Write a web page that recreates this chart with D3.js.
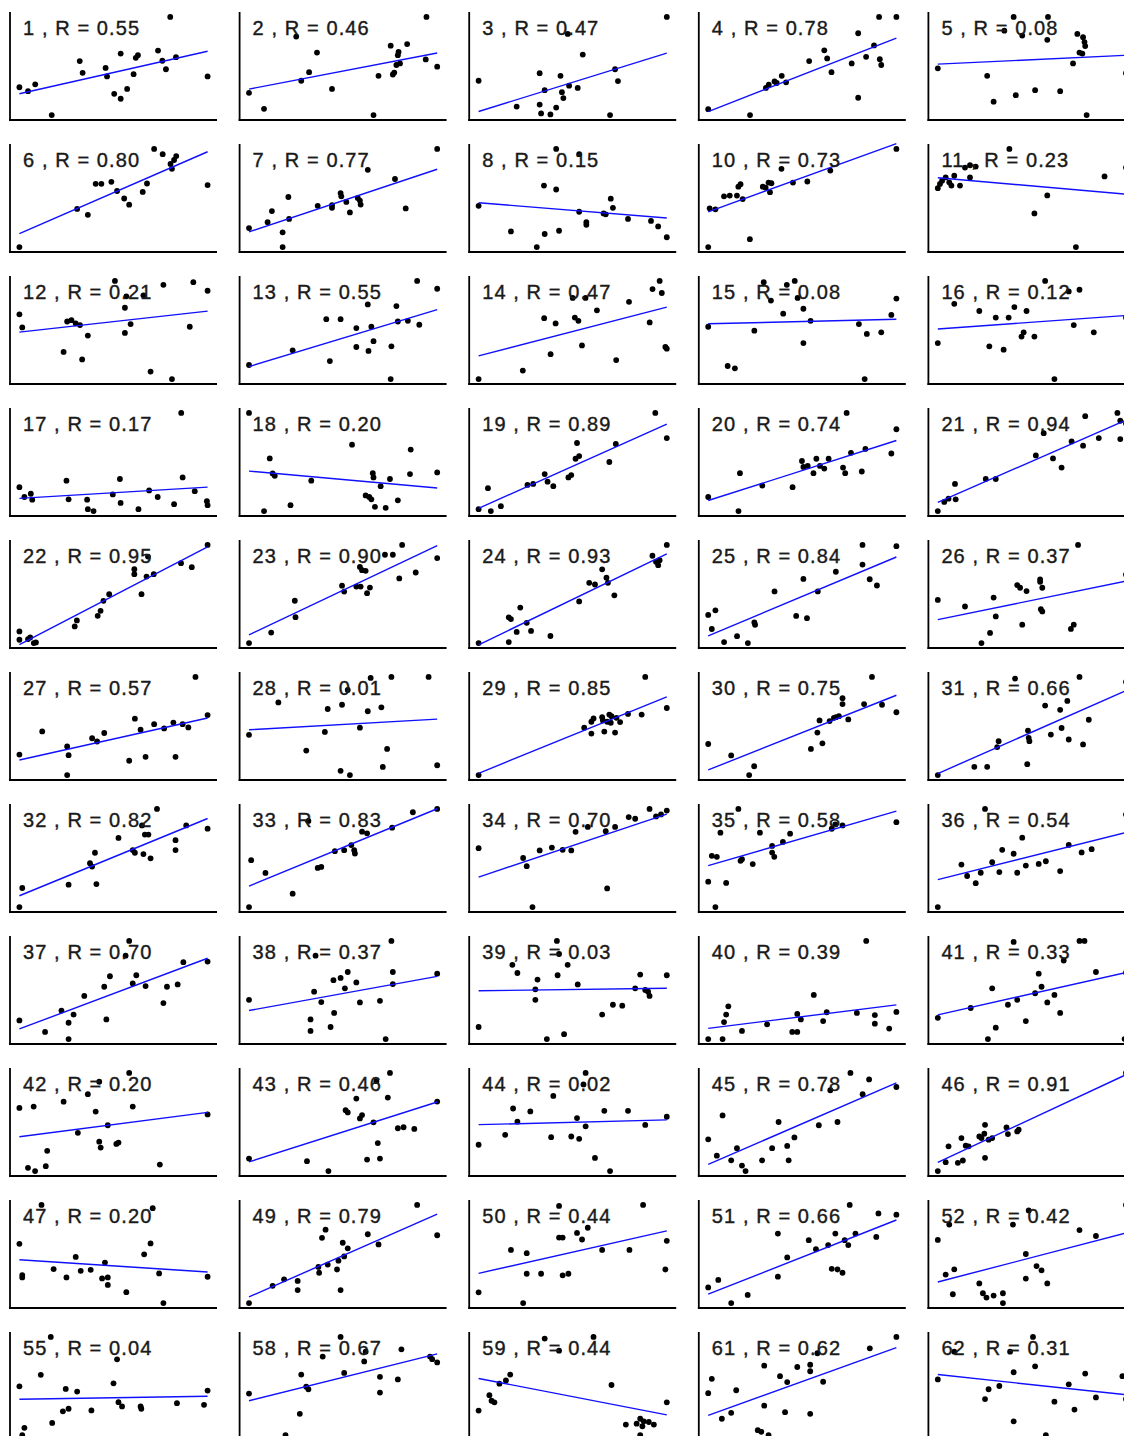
<!DOCTYPE html>
<html>
<head>
<meta charset="utf-8">
<script src="https://cdn.jsdelivr.net/npm/d3@7"></script>
<style>
  body { margin: 0; background: #fff; overflow: hidden; }
  svg { display: block; }
</style>
</head>
<body>
<script>
// panel numbers and correlation labels
const panelIds = [1, 2, 3, 4, 5, 6, 7, 8, 10, 11, 12, 13, 14, 15, 16, 17, 18, 19, 20, 21,
  22, 23, 24, 25, 26, 27, 28, 29, 30, 31, 32, 33, 34, 35, 36, 37, 38, 39, 40, 41,
  42, 43, 44, 45, 46, 47, 49, 50, 51, 52, 55, 58, 59, 61, 62];

const rLabels = ["0.55", "0.46", "0.47", "0.78", "0.08", "0.80", "0.77", "0.15", "0.73", "0.23",
  "0.21", "0.55", "0.47", "0.08", "0.12", "0.17", "0.20", "0.89", "0.74", "0.94",
  "0.95", "0.90", "0.93", "0.84", "0.37", "0.57", "0.01", "0.85", "0.75", "0.66",
  "0.82", "0.83", "0.70", "0.58", "0.54", "0.70", "0.37", "0.03", "0.39", "0.33",
  "0.20", "0.46", "0.02", "0.78", "0.91", "0.20", "0.79", "0.44", "0.66", "0.42",
  "0.04", "0.67", "0.44", "0.62", "0.31"];

// [x, y] per panel, same order as panelIds
const panelPoints = [
  [[16,97],[28,85],[38,106],[61,12],[100,177],[104,141],[136,156],[138,130],[148,77],[157,200],[157,62],[166,92],[175,137],[178,187],[181,195],[209,209],[215,178],[220,152],[226,312],[234,189],[278,130]],
  [[14,80],[35,31],[80,252],[87,117],[98,143],[109,203],[130,92],[188,12],[195,132],[212,224],[215,136],[217,142],[220,165],[222,195],[223,205],[225,170],[235,229],[261,182],[262,312],[277,160]],
  [[13,117],[66,38],[98,140],[98,44],[100,17],[105,88],[113,14],[121,35],[127,132],[129,82],[131,64],[139,102],[151,95],[158,197],[196,12],[203,152],[207,116],[275,312],[137,260]],
  [[13,30],[71,12],[93,95],[97,105],[105,115],[108,110],[115,132],[121,112],[153,177],[174,210],[178,185],[184,143],[212,170],[221,262],[221,65],[232,190],[243,225],[250,312],[251,183],[253,165],[274,312]],
  [[12,155],[81,132],[90,53],[105,270],[118,312],[121,73],[130,255],[148,88],[165,242],[166,312],[183,85],[201,170],[207,260],[210,203],[215,250],[217,235],[218,223],[214,200],[220,12],[275,140]],
  [[14,13],[95,130],[110,112],[121,207],[129,207],[143,213],[151,185],[161,162],[168,143],[187,182],[193,208],[203,314],[215,298],[226,268],[228,253],[231,280],[234,292],[278,203]],
  [[14,70],[40,88],[46,122],[61,57],[61,12],[69,165],[70,98],[110,138],[130,140],[130,132],[142,177],[143,167],[150,150],[155,118],[166,162],[169,154],[170,142],[180,248],[218,220],[233,130],[277,312]],
  [[13,138],[58,60],[94,12],[104,200],[105,52],[121,188],[121,312],[125,62],[153,296],[153,120],[163,88],[163,80],[187,115],[190,112],[197,160],[200,132],[221,98],[253,92],[263,75],[275,42]],
  [[13,12],[15,125],[23,122],[35,160],[43,162],[53,162],[55,188],[58,195],[61,152],[71,35],[89,188],[93,185],[97,200],[99,172],[101,198],[115,240],[131,200],[151,203],[183,235],[275,298]],
  [[12,192],[15,205],[18,215],[23,225],[28,210],[31,200],[35,230],[43,200],[50,255],[57,262],[65,258],[57,225],[112,312],[147,115],[165,170],[205,12],[245,228],[275,255]],
  [[14,210],[18,170],[76,95],[81,188],[87,192],[93,182],[99,177],[102,72],[110,145],[148,312],[164,265],[188,268],[162,230],[162,153],[170,180],[198,35],[216,300],[228,12],[253,172],[258,308],[278,282]],
  [[14,55],[75,100],[122,195],[127,67],[142,195],[164,168],[164,110],[180,240],[181,98],[185,172],[188,128],[213,112],[212,12],[220,235],[222,188],[236,190],[252,178],[249,312],[277,288]],
  [[13,12],[75,38],[114,88],[105,198],[121,182],[145,260],[148,200],[153,190],[158,115],[163,260],[179,222],[206,70],[224,248],[253,185],[257,287],[267,312],[270,275],[275,110],[277,105]],
  [[13,172],[40,52],[50,45],[77,160],[90,308],[100,252],[117,212],[122,300],[133,312],[137,260],[145,227],[145,122],[155,190],[222,180],[230,12],[233,150],[253,155],[267,208],[274,258]],
  [[12,122],[35,242],[70,220],[84,112],[93,200],[104,102],[111,200],[119,232],[129,142],[132,155],[136,220],[147,142],[162,312],[175,12],[195,280],[202,177],[210,285],[230,155],[275,200]],
  [[14,85],[21,55],[30,65],[32,47],[80,105],[83,48],[109,47],[110,18],[118,12],[145,63],[155,110],[156,37],[181,18],[196,75],[208,55],[231,33],[241,312],[243,115],[260,73],[277,42],[278,30]],
  [[14,312],[35,12],[43,173],[47,127],[50,120],[72,30],[101,105],[158,215],[177,60],[182,55],[185,48],[187,128],[188,115],[190,25],[198,88],[205,22],[211,110],[222,45],[239,125],[240,200],[277,130]],
  [[13,18],[26,82],[30,12],[44,27],[81,92],[89,95],[105,125],[109,102],[117,88],[138,115],[142,122],[148,172],[153,180],[150,220],[195,162],[204,217],[259,312],[275,235]],
  [[13,55],[57,128],[55,12],[88,90],[130,85],[143,165],[145,147],[151,150],[159,128],[163,172],[168,150],[174,142],[180,172],[200,145],[203,128],[205,312],[211,190],[226,133],[231,202],[267,188],[274,262]],
  [[12,12],[21,40],[27,50],[37,48],[36,95],[79,110],[93,110],[149,182],[160,250],[173,173],[185,145],[199,225],[215,212],[218,302],[237,235],[263,312],[267,288],[267,232],[275,280]],
  [[16,55],[16,30],[28,32],[31,37],[36,20],[39,22],[93,70],[96,88],[125,102],[129,117],[133,147],[141,167],[176,242],[176,227],[186,167],[193,220],[195,280],[203,227],[241,260],[256,248],[278,315]],
  [[14,13],[45,45],[78,142],[79,92],[144,188],[147,170],[164,185],[170,185],[169,245],[172,235],[177,233],[179,165],[183,182],[204,282],[215,282],[224,210],[228,312],[247,228],[277,272]],
  [[13,22],[55,98],[58,93],[55,25],[66,55],[71,127],[80,82],[86,58],[113,43],[153,145],[167,200],[175,195],[185,240],[193,200],[191,215],[202,163],[255,280],[260,262],[263,252],[265,267],[275,312]],
  [[13,98],[18,55],[23,112],[35,15],[53,33],[68,12],[77,75],[78,68],[105,170],[135,95],[145,208],[150,88],[165,170],[190,230],[227,312],[227,252],[237,207],[247,188],[274,308]],
  [[12,145],[50,125],[73,14],[85,45],[90,152],[93,95],[123,190],[127,182],[130,70],[136,172],[155,207],[155,200],[158,182],[156,117],[158,110],[198,57],[202,70],[208,312],[275,222]],
  [[14,77],[46,148],[81,102],[83,75],[81,14],[116,127],[123,117],[133,143],[168,58],[176,187],[184,153],[191,70],[203,170],[217,157],[230,175],[233,70],[243,170],[251,160],[261,315],[278,198]],
  [[14,138],[55,237],[94,90],[120,147],[124,217],[142,28],[144,230],[155,15],[152,275],[169,160],[180,210],[184,312],[199,222],[201,40],[207,95],[213,315],[265,315],[277,45]],
  [[13,15],[160,160],[170,178],[170,142],[173,188],[185,192],[186,182],[188,148],[192,178],[195,200],[197,175],[198,195],[203,145],[205,190],[210,177],[221,202],[240,200],[245,315],[275,220]],
  [[13,110],[45,75],[70,15],[77,42],[156,95],[165,145],[168,182],[172,112],[182,180],[188,190],[191,192],[195,195],[200,232],[200,250],[208,185],[230,232],[241,315],[255,230],[275,207]],
  [[12,17],[63,42],[81,42],[95,102],[97,120],[120,310],[137,50],[138,152],[139,130],[140,120],[162,228],[170,140],[183,215],[185,160],[193,242],[195,125],[210,315],[215,110],[223,185],[275,300]],
  [[14,17],[18,75],[83,85],[113,150],[116,140],[120,182],[122,87],[153,227],[173,190],[176,182],[186,265],[188,178],[190,237],[195,237],[198,165],[207,315],[233,220],[233,190],[248,265],[278,255]],
  [[14,15],[17,155],[37,117],[75,55],[97,272],[110,132],[115,135],[134,182],[147,185],[157,200],[161,185],[162,175],[172,240],[179,235],[214,252],[243,298],[277,308]],
  [[13,195],[75,165],[80,140],[88,15],[98,188],[115,197],[130,190],[142,188],[148,245],[165,260],[190,247],[192,72],[203,260],[222,290],[231,285],[251,315],[260,292],[267,298],[275,310]],
  [[13,92],[18,170],[23,15],[25,167],[30,240],[38,88],[55,312],[58,155],[60,160],[75,145],[85,240],[102,200],[102,180],[105,167],[117,212],[127,237],[185,252],[190,265],[200,262],[275,272]],
  [[12,15],[45,145],[53,110],[65,88],[72,120],[78,315],[88,152],[98,122],[102,190],[118,178],[123,120],[130,227],[135,142],[153,147],[163,155],[183,125],[195,205],[213,182],[227,192],[275,298]],
  [[14,72],[50,37],[73,102],[83,65],[83,15],[90,90],[105,147],[133,175],[136,75],[141,207],[163,270],[168,315],[173,185],[178,210],[191,177],[216,125],[221,175],[236,182],[244,250],[278,252]],
  [[14,135],[100,75],[100,40],[105,160],[107,270],[115,128],[128,52],[133,95],[132,195],[142,202],[148,170],[152,220],[164,188],[169,127],[197,132],[205,15],[215,220],[215,183],[213,315],[277,215]],
  [[13,52],[60,242],[67,217],[92,167],[92,135],[95,197],[108,15],[122,315],[123,210],[132,30],[137,242],[151,182],[125,275],[185,90],[200,120],[213,117],[231,170],[238,212],[245,165],[249,160],[251,147],[275,210]],
  [[13,15],[33,15],[35,67],[38,90],[41,115],[60,40],[95,60],[130,37],[137,37],[137,92],[142,75],[160,150],[173,70],[178,97],[220,95],[233,315],[245,88],[245,62],[265,47],[275,98]],
  [[12,80],[58,110],[82,15],[88,170],[93,50],[110,120],[118,312],[123,135],[135,70],[148,155],[153,215],[157,175],[165,127],[175,150],[183,95],[188,255],[210,315],[217,315],[233,220],[275,218],[273,15]],
  [[14,208],[26,25],[34,212],[36,15],[51,30],[53,77],[76,227],[96,132],[110,250],[121,197],[126,288],[126,105],[128,87],[138,155],[150,98],[153,102],[168,315],[173,212],[211,35],[278,188]],
  [[14,55],[95,47],[125,17],[149,202],[152,195],[164,237],[169,177],[172,187],[179,52],[188,165],[192,290],[194,102],[197,55],[208,240],[211,315],[222,147],[230,150],[245,145],[277,228]],
  [[13,97],[50,127],[61,207],[67,167],[85,198],[114,120],[117,245],[142,122],[150,178],[153,115],[162,153],[162,315],[159,280],[175,57],[188,200],[196,17],[221,200],[245,157],[275,182]],
  [[13,112],[25,62],[33,185],[45,48],[53,85],[60,32],[65,15],[88,48],[102,85],[111,165],[123,92],[125,48],[133,118],[167,155],[183,262],[193,165],[211,315],[228,250],[237,295],[275,272]],
  [[12,15],[23,42],[27,90],[40,40],[45,115],[47,47],[51,92],[55,90],[70,120],[73,115],[77,128],[78,155],[78,55],[83,110],[88,115],[108,147],[110,127],[123,135],[125,140],[275,312]],
  [[14,197],[18,102],[18,95],[45,315],[62,120],[80,95],[93,157],[100,115],[114,118],[130,92],[134,140],[138,95],[138,72],[164,50],[189,165],[198,198],[201,305],[210,107],[216,17],[278,97]],
  [[14,17],[47,70],[63,90],[82,85],[82,57],[111,128],[112,110],[116,217],[121,242],[124,135],[137,120],[139,147],[142,57],[145,202],[147,160],[152,185],[180,228],[195,197],[249,318],[277,225]],
  [[13,50],[58,180],[75,17],[80,170],[80,107],[100,107],[125,315],[125,218],[130,218],[130,102],[138,107],[150,232],[157,212],[165,248],[185,180],[223,180],[242,318],[275,208],[273,120]],
  [[13,65],[27,88],[45,17],[68,42],[110,230],[110,98],[123,157],[153,210],[163,182],[180,195],[185,122],[190,230],[193,120],[200,110],[203,210],[208,195],[210,318],[218,230],[247,220],[250,292],[275,288]],
  [[12,208],[23,102],[28,255],[33,42],[35,118],[70,75],[75,45],[80,32],[90,38],[103,45],[103,15],[117,255],[135,90],[135,165],[139,298],[150,128],[157,115],[165,75],[210,238],[233,220],[275,315]],
  [[14,168],[21,42],[18,20],[44,203],[58,318],[60,57],[75,92],[79,160],[83,100],[95,152],[115,95],[146,177],[151,250],[153,120],[158,107],[184,107],[185,100],[235,117],[273,112],[278,155]],
  [[14,147],[65,20],[85,85],[87,205],[94,168],[97,160],[117,260],[142,320],[147,210],[175,245],[177,275],[197,198],[197,150],[222,190],[227,282],[267,260],[270,252],[277,242]],
  [[13,95],[28,142],[31,125],[35,120],[42,177],[51,187],[57,205],[105,315],[125,278],[173,320],[198,173],[218,52],[233,55],[238,70],[241,47],[243,62],[250,60],[238,20],[257,52],[275,120]],
  [[13,148],[18,192],[32,70],[45,88],[52,157],[82,35],[87,30],[91,232],[91,110],[97,20],[113,200],[120,90],[123,182],[137,228],[155,235],[155,215],[155,85],[165,270],[173,183],[238,285],[275,320]],
  [[12,190],[35,275],[78,130],[83,160],[98,170],[113,275],[118,212],[118,62],[145,320],[148,230],[163,20],[175,122],[195,175],[203,98],[218,208],[233,135],[270,200],[275,130]]
];

const width = 1124, height = 1436;
const nCols = 5;
const colStep = 229.6, rowStep = 132;
const panelW = 207, panelTop = 12, panelBottom = 120;

const svg = d3.select("body").append("svg")
  .attr("width", width)
  .attr("height", height);

// ordinary least squares fit
function fitLine(pts) {
  const mx = d3.mean(pts, d => d[0]);
  const my = d3.mean(pts, d => d[1]);
  let sxy = 0, sxx = 0;
  pts.forEach(d => {
    sxy += (d[0] - mx) * (d[1] - my);
    sxx += (d[0] - mx) * (d[0] - mx);
  });
  const b = sxy / sxx;
  return {a: my - b * mx, b: b};
}

function padded(ext) {
  const pad = (ext[1] - ext[0]) * 0.05;
  return [ext[0] - pad, ext[1] + pad];
}

panelIds.forEach((id, i) => {
  const col = i % nCols, row = Math.floor(i / nCols);
  const x0 = 10 + col * colStep;
  const y0 = row * rowStep;
  const pts = panelPoints[i];

  const x = d3.scaleLinear()
    .domain(padded(d3.extent(pts, d => d[0])))
    .range([x0, x0 + panelW]);
  const y = d3.scaleLinear()
    .domain(padded(d3.extent(pts, d => d[1])))
    .range([y0 + panelBottom, y0 + panelTop]);

  const g = svg.append("g");

  // axes: plain left and bottom lines, no ticks
  g.append("line")
    .attr("x1", x0).attr("x2", x0)
    .attr("y1", y0 + panelTop).attr("y2", y0 + panelBottom + 1)
    .attr("stroke", "#000").attr("stroke-width", 1.8);
  g.append("line")
    .attr("x1", x0 - 0.9).attr("x2", x0 + panelW)
    .attr("y1", y0 + panelBottom).attr("y2", y0 + panelBottom)
    .attr("stroke", "#000").attr("stroke-width", 2.2);

  g.selectAll("circle")
    .data(pts)
    .enter()
    .append("circle")
    .attr("cx", d => x(d[0]))
    .attr("cy", d => y(d[1]))
    .attr("r", 2.9)
    .attr("fill", "#000");

  const fit = fitLine(pts);
  const xr = d3.extent(pts, d => d[0]);
  g.append("line")
    .attr("x1", x(xr[0])).attr("y1", y(fit.a + fit.b * xr[0]))
    .attr("x2", x(xr[1])).attr("y2", y(fit.a + fit.b * xr[1]))
    .attr("stroke", "#1010ff")
    .attr("stroke-width", 1.4);

  g.append("text")
    .attr("x", x0 + 13)
    .attr("y", y0 + 35)
    .attr("font-family", "'Liberation Sans', Arial, sans-serif")
    .attr("font-size", 20)
    .attr("letter-spacing", 1.1)
    .attr("fill", "#1a1a1a")
    .attr("stroke", "#1a1a1a")
    .attr("stroke-width", 0.4)
    .text(id + " , R = " + rLabels[i]);
});
</script>
</body>
</html>
